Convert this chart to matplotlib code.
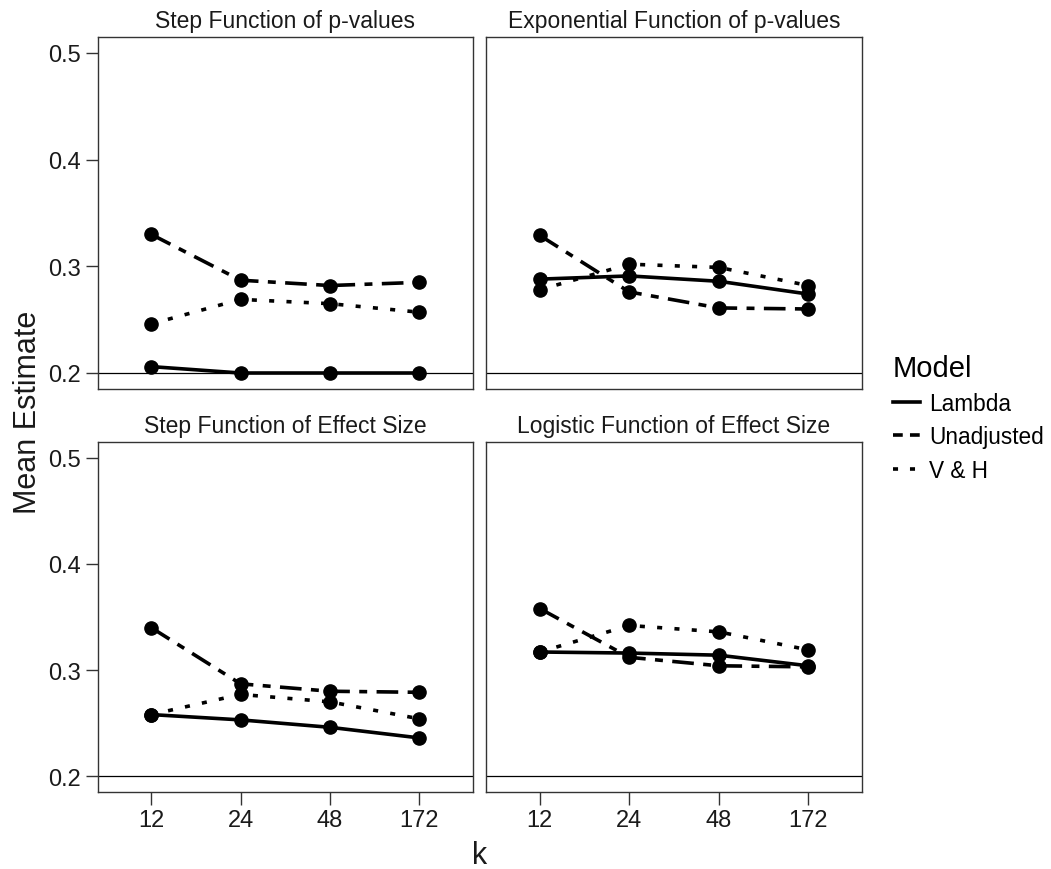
import matplotlib.pyplot as plt
from matplotlib.lines import Line2D

plt.rcParams["font.family"] = ["Liberation Sans", "DejaVu Sans"]

# sample sizes on the x axis (treated as categories)
K_LABELS = ["12", "24", "48", "172"]

PANELS = [
    "Step Function of p-values",
    "Exponential Function of p-values",
    "Step Function of Effect Size",
    "Logistic Function of Effect Size",
]

# mean estimates per panel, one list per model
LAMBDA = [
    [0.206, 0.200, 0.200, 0.200],
    [0.288, 0.291, 0.286, 0.274],
    [0.258, 0.253, 0.246, 0.236],
    [0.317, 0.316, 0.314, 0.304],
]
UNADJUSTED = [
    [0.330, 0.287, 0.282, 0.285],
    [0.329, 0.276, 0.261, 0.260],
    [0.340, 0.287, 0.280, 0.279],
    [0.358, 0.312, 0.304, 0.303],
]
VH = [
    [0.246, 0.269, 0.265, 0.257],
    [0.278, 0.302, 0.299, 0.282],
    [0.258, 0.277, 0.270, 0.254],
    [0.317, 0.342, 0.336, 0.319],
]

TRUE_VALUE = 0.2

MODELS = ["Lambda", "Unadjusted", "V & H"]
# dash patterns in units of line width
STYLES = {
    "Lambda": "-",
    "Unadjusted": (0, (6.0, 2.6, 2.2, 2.6)),
    "V & H": (0, (1.4, 3.4)),
}
KEY_STYLES = {
    "Lambda": "-",
    "Unadjusted": (0, (2.7, 2.0)),
    "V & H": (0, (1.4, 3.3)),
}
SERIES = {"Lambda": LAMBDA, "Unadjusted": UNADJUSTED, "V & H": VH}

W, H = 1051, 870
fig = plt.figure(figsize=(W / 100, H / 100), dpi=100)


def px_box(x0, y0, x1, y1):
    # pixel box (top-left origin) -> figure fraction rect
    return [x0 / W, 1 - y1 / H, (x1 - x0) / W, (y1 - y0) / H]


boxes = [
    px_box(97.5, 38, 473, 390),
    px_box(486, 38, 862, 390),
    px_box(97.5, 443, 473, 793),
    px_box(486, 443, 862, 793),
]

LW = 2.6
x = list(range(1, len(K_LABELS) + 1))

for i, (title, rect) in enumerate(zip(PANELS, boxes)):
    ax = fig.add_axes(rect)
    ax.axhline(TRUE_VALUE, color="black", lw=0.9, zorder=1)
    for m in MODELS:
        ax.plot(x, SERIES[m][i], color="black", lw=LW, ls=STYLES[m],
                dash_capstyle="butt", marker="o", ms=9.5, zorder=3)
    ax.set_xlim(0.4, 4.6)
    ax.set_ylim(0.185, 0.515)
    for s in ax.spines.values():
        s.set_color("#333333")
        s.set_linewidth(1.0)
    ax.set_title(title, fontsize=16.5, pad=7, color="#1a1a1a")
    ax.tick_params(length=9, width=1.0, color="#333333",
                   labelsize=17, labelcolor="#1a1a1a", pad=3)
    ax.set_xticks(x)
    ax.set_yticks([0.2, 0.3, 0.4, 0.5])
    ax.set_yticklabels(["0.2", "0.3", "0.4", "0.5"])
    if i < 2:
        ax.tick_params(axis="x", bottom=False, labelbottom=False)
    else:
        ax.set_xticklabels(K_LABELS)
    if i % 2 == 1:
        ax.tick_params(axis="y", left=False, labelleft=False)

fig.text(28 / W, 1 - 412 / H, "Mean Estimate", rotation=90, fontsize=22,
         ha="center", va="center", color="#1a1a1a")
fig.text(480 / W, 1 - 856 / H, "k", fontsize=22,
         ha="center", va="center", color="#1a1a1a")

handles = [Line2D([], [], color="black", lw=LW, ls=KEY_STYLES[m],
                  dash_capstyle="butt") for m in MODELS]
leg = fig.legend(handles, MODELS, title="Model", loc="upper left",
                 bbox_to_anchor=(893 / W, 1 - 355 / H), frameon=False,
                 fontsize=16.3, title_fontsize=21, handlelength=1.2,
                 handletextpad=0.4, labelspacing=0.45, alignment="left",
                 borderaxespad=0, borderpad=0)

fig.savefig("out.png", dpi=100)
